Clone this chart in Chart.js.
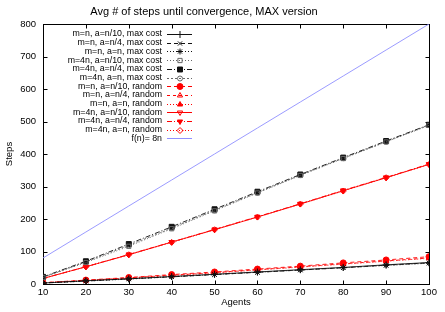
<!DOCTYPE html>
<html><head><meta charset="utf-8">
<script src="https://cdn.jsdelivr.net/npm/chart.js@4/dist/chart.umd.min.js"></script>
<style>html,body{margin:0;padding:0;background:#fff;}canvas{display:block;}</style>
</head><body>
<canvas id="c" width="445" height="312"></canvas>
<script>
const chartTitle = 'Avg # of steps until convergence, MAX version';
const xTitle = 'Agents';
const yTitle = 'Steps';
const agents = [10, 20, 30, 40, 50, 60, 70, 80, 90, 100];
const seriesLabels = [
  'm=n, a=n/10, max cost', 'm=n, a=n/4, max cost', 'm=n, a=n, max cost',
  'm=4n, a=n/10, max cost', 'm=4n, a=n/4, max cost', 'm=4n, a=n, max cost',
  'm=n, a=n/10, random', 'm=n, a=n/4, random', 'm=n, a=n, random',
  'm=4n, a=n/10, random', 'm=4n, a=n/4, random', 'm=4n, a=n, random',
  'f(n)= 8n'
];
const mnA10Max = [3, 10, 16, 23, 30, 37, 44, 51, 59, 66];
const mnA4Max  = [3, 9, 16, 22, 29, 36, 43, 50, 58, 65];
const mnAnMax  = [3, 9, 15, 22, 29, 36, 43, 50, 57, 64];
const m4nA10Max = [20, 66, 116, 170, 225, 280, 334, 386, 437, 488];
const m4nA4Max  = [22, 70, 123, 176, 230, 284, 337, 389, 440, 490];
const m4nAnMax  = [21, 68, 119, 172, 227, 281, 335, 387, 438, 489];
const mnA10Rand = [4, 12, 20, 29, 37, 46, 55, 65, 74, 84];
const mnA4Rand  = [4, 11, 19, 27, 35, 44, 53, 62, 71, 80];
const mnAnRand  = [3, 11, 18, 26, 34, 43, 52, 61, 70, 79];
const m4nA10Rand = [17, 53, 90, 129, 167, 206, 246, 287, 327, 368];
const m4nA4Rand  = [17, 53, 91, 129, 168, 207, 247, 288, 328, 369];
const m4nAnRand  = [17, 53, 90, 128, 167, 206, 246, 286, 327, 368];
const refLine = [80, 160, 240, 320, 400, 480, 560, 640, 720, 800];
const seriesValues = [mnA10Max, mnA4Max, mnAnMax, m4nA10Max, m4nA4Max, m4nAnMax,
  mnA10Rand, mnA4Rand, mnAnRand, m4nA10Rand, m4nA4Rand, m4nAnRand, refLine];

const FONT = '"Liberation Sans", Arial, Helvetica, sans-serif';
const BLK = '#111111', RED = '#ff0000', BLUE = '#9090ff', GRY = '#666666';
const styles = [
  {c: BLK, d: [], p: 'cross', f: false, r: 3.5},
  {c: BLK, d: [4, 3], p: 'crossRot', f: false, r: 3},
  {c: BLK, d: [1, 2], p: 'star', f: false, r: 3},
  {c: GRY, d: [1, 2], p: 'rect', f: false, r: 3},
  {c: BLK, d: [5, 2, 1, 2], p: 'rect', f: true, r: 3.5},
  {c: GRY, d: [2, 2], p: 'circle', f: false, r: 2.5},
  {c: RED, d: [4, 3], p: 'circle', f: true, r: 3},
  {c: RED, d: [3, 3], p: 'triangle', f: false, r: 3},
  {c: RED, d: [1, 2], p: 'triangle', f: true, r: 3},
  {c: RED, d: [], p: 'triangle', f: false, r: 3, rot: 180},
  {c: RED, d: [5, 2, 1, 2], p: 'triangle', f: true, r: 3, rot: 180},
  {c: RED, d: [1, 2], p: 'rectRot', f: false, r: 3},
  {c: BLUE, d: [], p: 'circle', f: false, r: 0}
];

const datasets = seriesValues.map((vals, i) => {
  const s = styles[i];
  return {
    label: seriesLabels[i],
    data: agents.map((a, k) => ({x: a, y: vals[k]})),
    borderColor: s.c,
    backgroundColor: s.f ? s.c : 'rgba(0,0,0,0)',
    pointBackgroundColor: s.f ? s.c : 'rgba(0,0,0,0)',
    pointBorderColor: s.c,
    pointStyle: s.p,
    pointRotation: s.rot || 0,
    pointRadius: s.r,
    pointHoverRadius: s.r,
    pointBorderWidth: 1,
    borderWidth: 0.9,
    borderDash: s.d,
    tension: 0,
    fill: false
  };
});

const framePlugin = {
  id: 'gpFrame',
  beforeDatasetsDraw(chart) {
    const {ctx, chartArea: a, scales: {x, y}} = chart;
    ctx.save();
    ctx.strokeStyle = '#000'; ctx.lineWidth = 1;
    const L = Math.round(a.left) + 0.5, R = Math.round(a.right) + 0.5;
    const T = Math.round(a.top) + 0.5, B = Math.round(a.bottom) + 0.5;
    ctx.strokeRect(L, T, R - L, B - T);
    ctx.beginPath();
    y.ticks.forEach(t => {
      const py = Math.round(y.getPixelForValue(t.value)) + 0.5;
      ctx.moveTo(L, py); ctx.lineTo(L + 4, py);
      ctx.moveTo(R, py); ctx.lineTo(R - 4, py);
    });
    x.ticks.forEach(t => {
      const px = Math.round(x.getPixelForValue(t.value)) + 0.5;
      ctx.moveTo(px, B); ctx.lineTo(px, B - 4);
      ctx.moveTo(px, T); ctx.lineTo(px, T + 4);
    });
    ctx.stroke();
    ctx.restore();
  }
};

const titlePlugin = {
  id: 'gpTitle',
  afterDraw(chart) {
    const ctx = chart.ctx;
    ctx.save();
    ctx.font = '11px ' + FONT;
    ctx.fillStyle = '#000';
    ctx.textAlign = 'center';
    ctx.textBaseline = 'middle';
    ctx.fillText(chartTitle, 204, 12);
    ctx.restore();
  }
};

const legendPlugin = {
  id: 'gpLegend',
  afterDraw(chart) {
    const {ctx, chartArea: a} = chart;
    ctx.save();
    ctx.font = '8.8px ' + FONT;
    ctx.textAlign = 'right';
    ctx.textBaseline = 'middle';
    const xr = a.left + 119;
    chart.data.datasets.forEach((ds, i) => {
      const yy = a.top + 10 + i * 8.7;
      ctx.fillStyle = '#000';
      ctx.fillText(ds.label, xr, yy);
      ctx.strokeStyle = ds.borderColor;
      ctx.lineWidth = 1;
      ctx.setLineDash(ds.borderDash || []);
      ctx.beginPath();
      ctx.moveTo(xr + 5, Math.round(yy) + 0.5);
      ctx.lineTo(xr + 30, Math.round(yy) + 0.5);
      ctx.stroke();
      ctx.setLineDash([]);
      if (ds.pointRadius > 0) {
        ctx.fillStyle = ds.pointBackgroundColor;
        ctx.strokeStyle = ds.pointBorderColor;
        Chart.helpers.drawPoint(ctx, {pointStyle: ds.pointStyle, rotation: ds.pointRotation,
          radius: ds.pointRadius, borderWidth: 1}, xr + 18, Math.round(yy) + 0.5);
      }
    });
    ctx.restore();
  }
};

Chart.defaults.font.family = FONT;
Chart.defaults.color = '#000';

new Chart(document.getElementById('c'), {
  type: 'line',
  data: {datasets},
  options: {
    responsive: false,
    devicePixelRatio: 1,
    animation: false,
    layout: {padding: {top: 24, right: 16, left: 0, bottom: 0}},
    plugins: {
      legend: {display: false},
      tooltip: {enabled: false},
      title: {display: false}
    },
    scales: {
      x: {
        type: 'linear', min: 10, max: 100,
        afterFit: s => { s.height = 28; },
        ticks: {stepSize: 10, font: {size: 9.5}, padding: 3, maxRotation: 0, autoSkip: false},
        grid: {display: false, drawTicks: false},
        border: {display: false},
        title: {display: true, text: xTitle, font: {size: 9.5}, padding: {top: 0, bottom: 4}}
      },
      y: {
        type: 'linear', min: 0, max: 800,
        afterFit: s => { s.width = 43; },
        ticks: {stepSize: 100, font: {size: 9.5}, padding: 7},
        grid: {display: false, drawTicks: false},
        border: {display: false},
        title: {display: true, text: yTitle, font: {size: 9.5}, padding: {top: 4, bottom: 0}}
      }
    }
  },
  plugins: [framePlugin, legendPlugin, titlePlugin]
});
</script>
</body></html>
